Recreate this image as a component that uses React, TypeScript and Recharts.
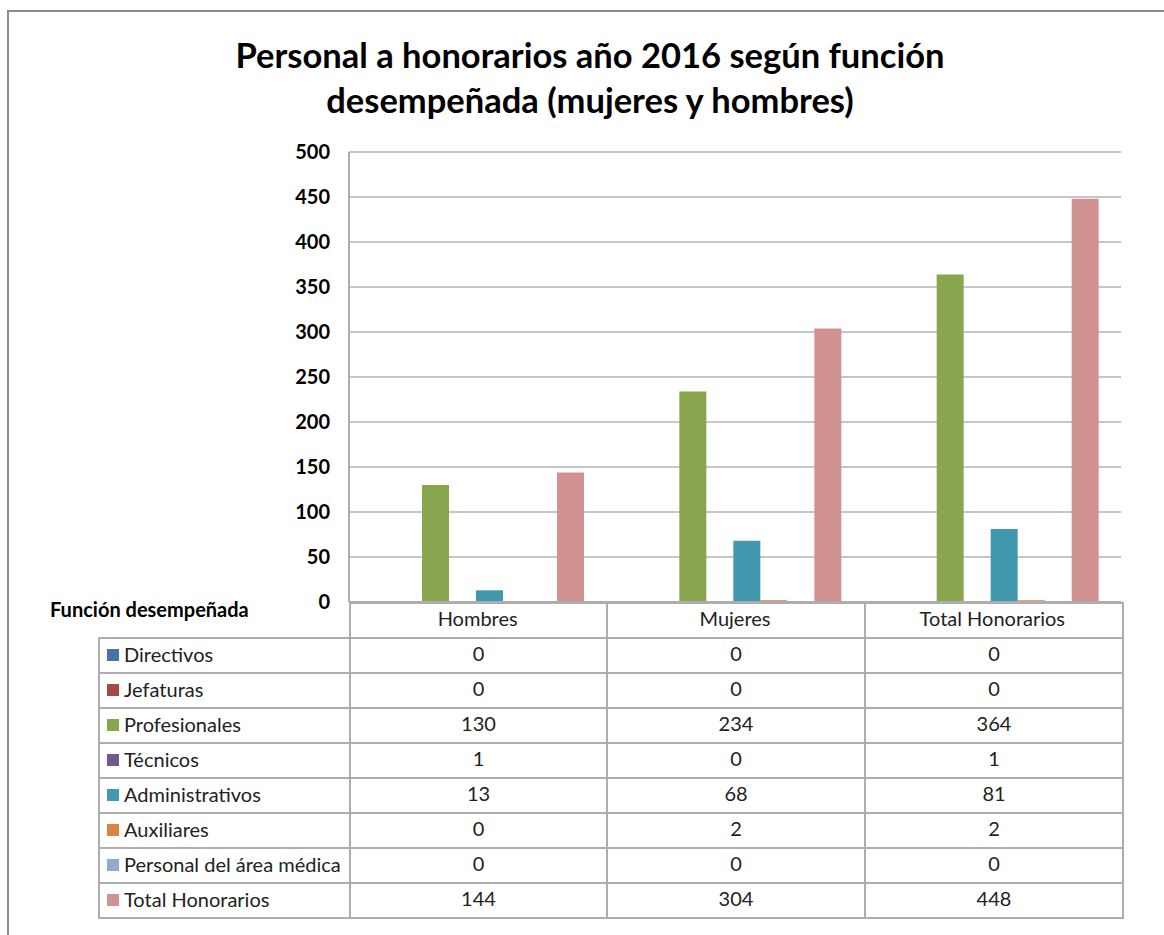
import { BarChart, Bar, XAxis, YAxis, CartesianGrid } from 'recharts';

const categories = ['Hombres', 'Mujeres', 'Total Honorarios'];
const seriesNames = [
  'Directivos',
  'Jefaturas',
  'Profesionales',
  'Técnicos',
  'Administrativos',
  'Auxiliares',
  'Personal del área médica',
  'Total Honorarios',
];
const directivos = [0, 0, 0];
const jefaturas = [0, 0, 0];
const profesionales = [130, 234, 364];
const tecnicos = [1, 0, 1];
const administrativos = [13, 68, 81];
const auxiliares = [0, 2, 2];
const areaMedica = [0, 0, 0];
const totalHonorarios = [144, 304, 448];
const yTicks = [0, 50, 100, 150, 200, 250, 300, 350, 400, 450, 500];

const seriesValues = [
  directivos,
  jefaturas,
  profesionales,
  tecnicos,
  administrativos,
  auxiliares,
  areaMedica,
  totalHonorarios,
];
const colors = ['#4573A7', '#AA4643', '#89A54E', '#71588F', '#4198AF', '#DB843D', '#93A9CF', '#D19392'];

const data = categories.map((c, i) => {
  const row: Record<string, string | number> = { name: c };
  seriesNames.forEach((s, k) => {
    row['s' + k] = seriesValues[k][i];
  });
  return row;
});

const FONT = 'Lato, "Open Sans", sans-serif';
const LINE = '2px solid #adadad';

export default function App() {
  const cell = { border: LINE, padding: 0, height: 33, lineHeight: '20px' } as const;
  const lift = { position: 'relative', top: -3 } as const;
  return (
    <div
      style={{
        position: 'absolute',
        left: 0,
        top: 0,
        width: 1164,
        height: 935,
        overflow: 'hidden',
        background: '#fff',
        fontFamily: FONT,
      }}
    >
      <div
        style={{
          position: 'absolute',
          left: 7,
          top: 10,
          width: 1200,
          height: 1000,
          border: '2px solid #8c8c8c',
        }}
      />
      <div
        style={{
          position: 'absolute',
          left: 0,
          top: 32,
          width: 1180,
          textAlign: 'center',
          fontWeight: 700,
          fontSize: 34.5,
          lineHeight: '45px',
          color: '#000',
        }}
      >
        Personal a honorarios año 2016 según función
        <br />
        desempeñada (mujeres y hombres)
      </div>
      <div
        style={{
          position: 'absolute',
          left: 50,
          top: 597,
          fontWeight: 700,
          fontSize: 20,
          color: '#000',
        }}
      >
        Función desempeñada
      </div>
      <table
        style={{
          position: 'absolute',
          left: 98,
          top: 602,
          width: 1024,
          borderCollapse: 'collapse',
          tableLayout: 'fixed',
          fontSize: 20,
          color: '#222',
        }}
      >
        <colgroup>
          <col style={{ width: 251 }} />
          <col style={{ width: 257 }} />
          <col style={{ width: 258 }} />
          <col style={{ width: 258 }} />
        </colgroup>
        <tbody>
          <tr>
            <td style={{ ...cell, borderTop: 'none', borderLeft: 'none' }} />
            {categories.map((c) => (
              <td key={c} style={cell} />
            ))}
          </tr>
          {seriesNames.map((s, k) => (
            <tr key={s}>
              <td style={{ ...cell, paddingLeft: 7, whiteSpace: 'nowrap' }}>
                <span
                  style={{
                    display: 'inline-block',
                    width: 12,
                    height: 12,
                    background: colors[k],
                    marginRight: 5,
                    verticalAlign: 'middle',
                    position: 'relative',
                    top: -2,
                  }}
                />
                <span style={{ verticalAlign: 'middle', ...lift }}>{s}</span>
              </td>
              {seriesValues[k].map((v, i) => (
                <td key={i} style={{ ...cell, textAlign: 'center' }}>
                  <span style={lift}>{v}</span>
                </td>
              ))}
            </tr>
          ))}
        </tbody>
      </table>
      <div style={{ position: 'absolute', left: 0, top: 0 }}>
        <BarChart
          width={1164}
          height={935}
          data={data}
          margin={{ top: 152, right: 43, bottom: 299, left: 289 }}
          barCategoryGap={19}
          barGap={0}
        >
          <CartesianGrid vertical={false} stroke="#b3b3b3" strokeWidth={1.5} />
          <XAxis
            dataKey="name"
            height={34}
            tickLine={false}
            tickSize={0}
            tickMargin={10}
            axisLine={{ stroke: '#adadad', strokeWidth: 2 }}
            tick={{ fontSize: 20, fill: '#222', fontFamily: FONT }}
            interval={0}
          />
          <YAxis
            width={60}
            domain={[0, 500]}
            ticks={yTicks}
            tickLine={false}
            tickSize={0}
            tickMargin={19}
            axisLine={{ stroke: '#adadad', strokeWidth: 2 }}
            tick={{ fontSize: 20, fill: '#000', fontWeight: 700, fontFamily: FONT }}
            interval={0}
          />
          {seriesNames.map((s, k) => (
            <Bar key={s} dataKey={'s' + k} name={s} fill={colors[k]} isAnimationActive={false} />
          ))}
        </BarChart>
      </div>
    </div>
  );
}
